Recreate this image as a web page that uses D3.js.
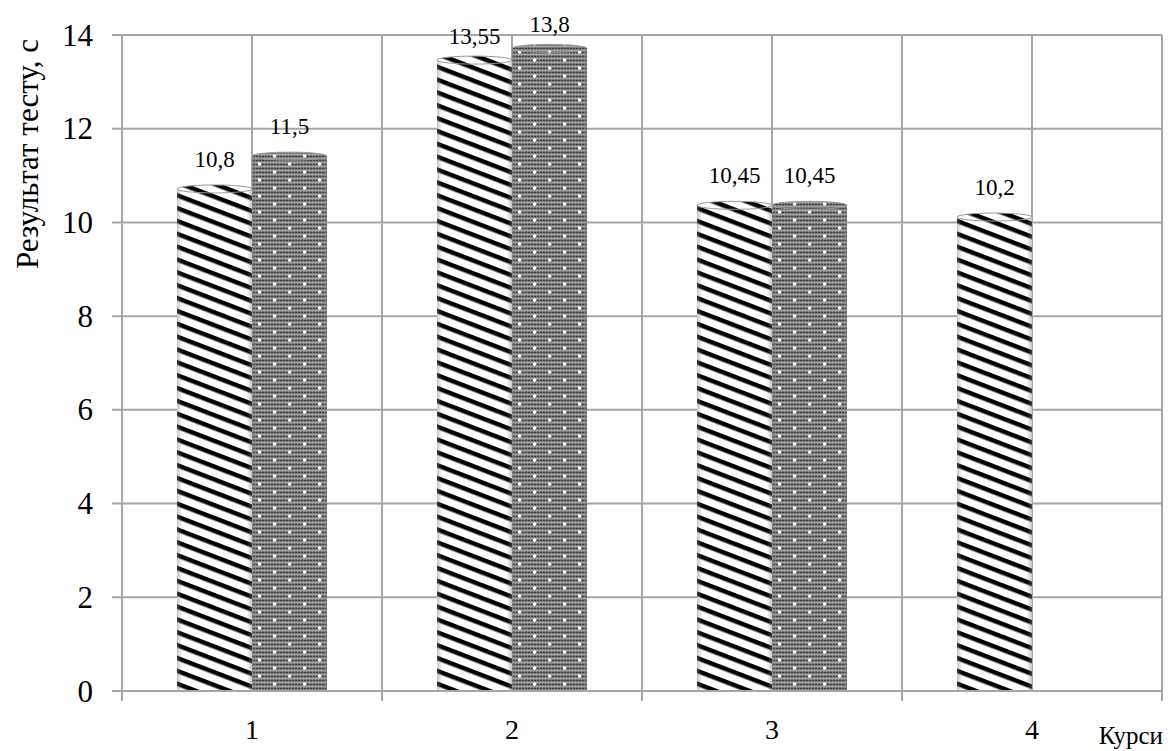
<!DOCTYPE html>
<html>
<head>
<meta charset="utf-8">
<script src="https://cdn.jsdelivr.net/npm/d3@7"></script>
<style>
  html, body { margin: 0; padding: 0; background: #fff; }
  svg { display: block; }
</style>
</head>
<body>
<svg id="chart" width="1168" height="751"></svg>
<script>
// Course numbers and test results (seconds) for the two groups
const categories = ["1", "2", "3", "4"];
const seriesNames = ["A", "B"];
const seriesA = [10.8, 13.55, 10.45, 10.2];
const seriesB = [11.5, 13.8, 10.45, null];
const yTicks = [0, 2, 4, 6, 8, 10, 12, 14];
const yTitle = "Результат тесту, с";
const xTitle = "Курси";

(function () {
const FONT = '"Liberation Serif", "Times New Roman", serif';
const svg = d3.select("#chart");
const plotLeft = 122, plotRight = 1162, plotTop = 35, plotBottom = 691;

const y = d3.scaleLinear().domain([0, 14]).range([plotBottom, plotTop]);
const x0 = d3.scaleBand().domain(categories).range([plotLeft, plotRight]).padding(0);
const groupW = 150;
const x1 = d3.scaleBand().domain(seriesNames)
  .range([(x0.bandwidth() - groupW) / 2, (x0.bandwidth() + groupW) / 2]).padding(0);

const locale = d3.formatLocale({ decimal: ",", thousands: " ", grouping: [3], currency: ["", ""] });
const fmt = locale.format("~g");

// ---- patterns ----
const defs = svg.append("defs");

const stripes = defs.append("pattern")
  .attr("id", "stripes").attr("patternUnits", "userSpaceOnUse")
  .attr("width", 40).attr("height", 12)
  .attr("patternTransform", "rotate(21)");
stripes.append("rect").attr("width", 40).attr("height", 12).attr("fill", "#fff");
stripes.append("rect").attr("y", 0).attr("width", 40).attr("height", 4.5).attr("fill", "#000");

const dots = defs.append("pattern")
  .attr("id", "dots").attr("patternUnits", "userSpaceOnUse")
  .attr("width", 30).attr("height", 16);
dots.append("rect").attr("width", 30).attr("height", 16).attr("fill", "#777");
// fine woven texture
for (let yy = 0; yy < 16; yy += 2) {
  dots.append("rect").attr("x", 0).attr("y", yy).attr("width", 30).attr("height", 1)
    .attr("fill", yy % 4 === 0 ? "#3e3e3e" : "#a4a4a4");
}
for (let xx = 0; xx < 30; xx += 3) {
  dots.append("rect").attr("x", xx).attr("y", 0).attr("width", 1).attr("height", 16)
    .attr("fill", "#9a9a9a").attr("opacity", 0.6);
}
dots.append("circle").attr("cx", 7.5).attr("cy", 4).attr("r", 1.8).attr("fill", "#fff");
dots.append("circle").attr("cx", 22.5).attr("cy", 12).attr("r", 1.8).attr("fill", "#fff");

// cylinder edge shading
const shade = defs.append("linearGradient").attr("id", "shade")
  .attr("x1", 0).attr("x2", 1).attr("y1", 0).attr("y2", 0);
[[0, 0.45], [0.07, 0], [0.93, 0], [1, 0.45]].forEach(([o, a]) => {
  shade.append("stop").attr("offset", o).attr("stop-color", "#808080").attr("stop-opacity", a);
});

// ---- grid ----
const gridColor = "#a6a6a6";
const grid = svg.append("g");
grid.selectAll("line.h").data(yTicks).join("line")
  .attr("x1", plotLeft - 10).attr("x2", plotRight)
  .attr("y1", d => y(d)).attr("y2", d => y(d))
  .attr("stroke", gridColor).attr("stroke-width", 2);

const vPos = [];
categories.forEach(c => { vPos.push(x0(c)); vPos.push(x0(c) + x0.bandwidth() / 2); });
vPos.push(plotRight);
grid.selectAll("line.v").data(vPos).join("line")
  .attr("x1", d => d).attr("x2", d => d)
  .attr("y1", plotTop).attr("y2", plotBottom)
  .attr("stroke", gridColor).attr("stroke-width", 2);

// bottom tick marks at category boundaries
const bounds = categories.map(c => x0(c)).concat([plotRight]);
grid.selectAll("line.t").data(bounds).join("line")
  .attr("x1", d => d).attr("x2", d => d)
  .attr("y1", plotBottom).attr("y2", plotBottom + 10)
  .attr("stroke", gridColor).attr("stroke-width", 2);

// ---- bars (cylinders) ----
const rows = [];
categories.forEach((c, i) => {
  rows.push({ cat: c, s: "A", v: seriesA[i], fill: "url(#stripes)" });
  if (seriesB[i] != null) rows.push({ cat: c, s: "B", v: seriesB[i], fill: "url(#dots)" });
});
const ry = 4;
const bars = svg.append("g").selectAll("g").data(rows).join("g")
  .attr("transform", d => `translate(${x0(d.cat) + x1(d.s)},0)`);
const bw = x1.bandwidth();
bars.append("rect")
  .attr("x", 0).attr("width", bw)
  .attr("y", d => y(d.v) + ry).attr("height", d => y(0) - y(d.v) - ry)
  .attr("fill", d => d.fill);
bars.append("rect")
  .attr("x", 0).attr("width", bw)
  .attr("y", d => y(d.v) + ry).attr("height", d => y(0) - y(d.v) - ry)
  .attr("fill", "url(#shade)");
bars.append("ellipse")
  .attr("cx", bw / 2).attr("cy", d => y(d.v) + ry)
  .attr("rx", bw / 2).attr("ry", ry)
  .attr("fill", d => d.fill)
  .attr("stroke", "#9a9a9a").attr("stroke-width", 1);

// axis lines on top
svg.append("line").attr("x1", plotLeft).attr("x2", plotLeft).attr("y1", plotTop).attr("y2", plotBottom + 10)
  .attr("stroke", gridColor).attr("stroke-width", 2);
svg.append("line").attr("x1", plotLeft).attr("x2", plotRight).attr("y1", plotBottom).attr("y2", plotBottom)
  .attr("stroke", gridColor).attr("stroke-width", 2);

// ---- value labels ----
bars.append("text")
  .attr("x", bw / 2)
  .attr("y", d => (y(d.v) - 18 < 40 ? y(d.v) - 12 : y(d.v) - 18))
  .attr("text-anchor", "middle")
  .style("font-family", FONT).style("font-size", "23px").attr("fill", "#000")
  .text(d => fmt(d.v));

// ---- tick labels ----
svg.append("g").selectAll("text").data(yTicks).join("text")
  .attr("x", 93).attr("y", d => y(d)).attr("dy", "0.34em")
  .attr("text-anchor", "end")
  .style("font-family", FONT).style("font-size", "31px").attr("fill", "#000")
  .text(d => d);

svg.append("g").selectAll("text").data(categories).join("text")
  .attr("x", d => x0(d) + x0.bandwidth() / 2).attr("y", 739)
  .attr("text-anchor", "middle")
  .style("font-family", FONT).style("font-size", "28px").attr("fill", "#000")
  .text(d => d);

// ---- axis titles ----
svg.append("text")
  .attr("transform", "translate(38,154) rotate(-90)")
  .attr("text-anchor", "middle")
  .style("font-family", FONT).style("font-size", "31px").attr("fill", "#000")
  .text(yTitle);

svg.append("text")
  .attr("x", 1163).attr("y", 744)
  .attr("text-anchor", "end")
  .style("font-family", FONT).style("font-size", "25px").attr("fill", "#000")
  .text(xTitle);
})();
</script>
</body>
</html>
